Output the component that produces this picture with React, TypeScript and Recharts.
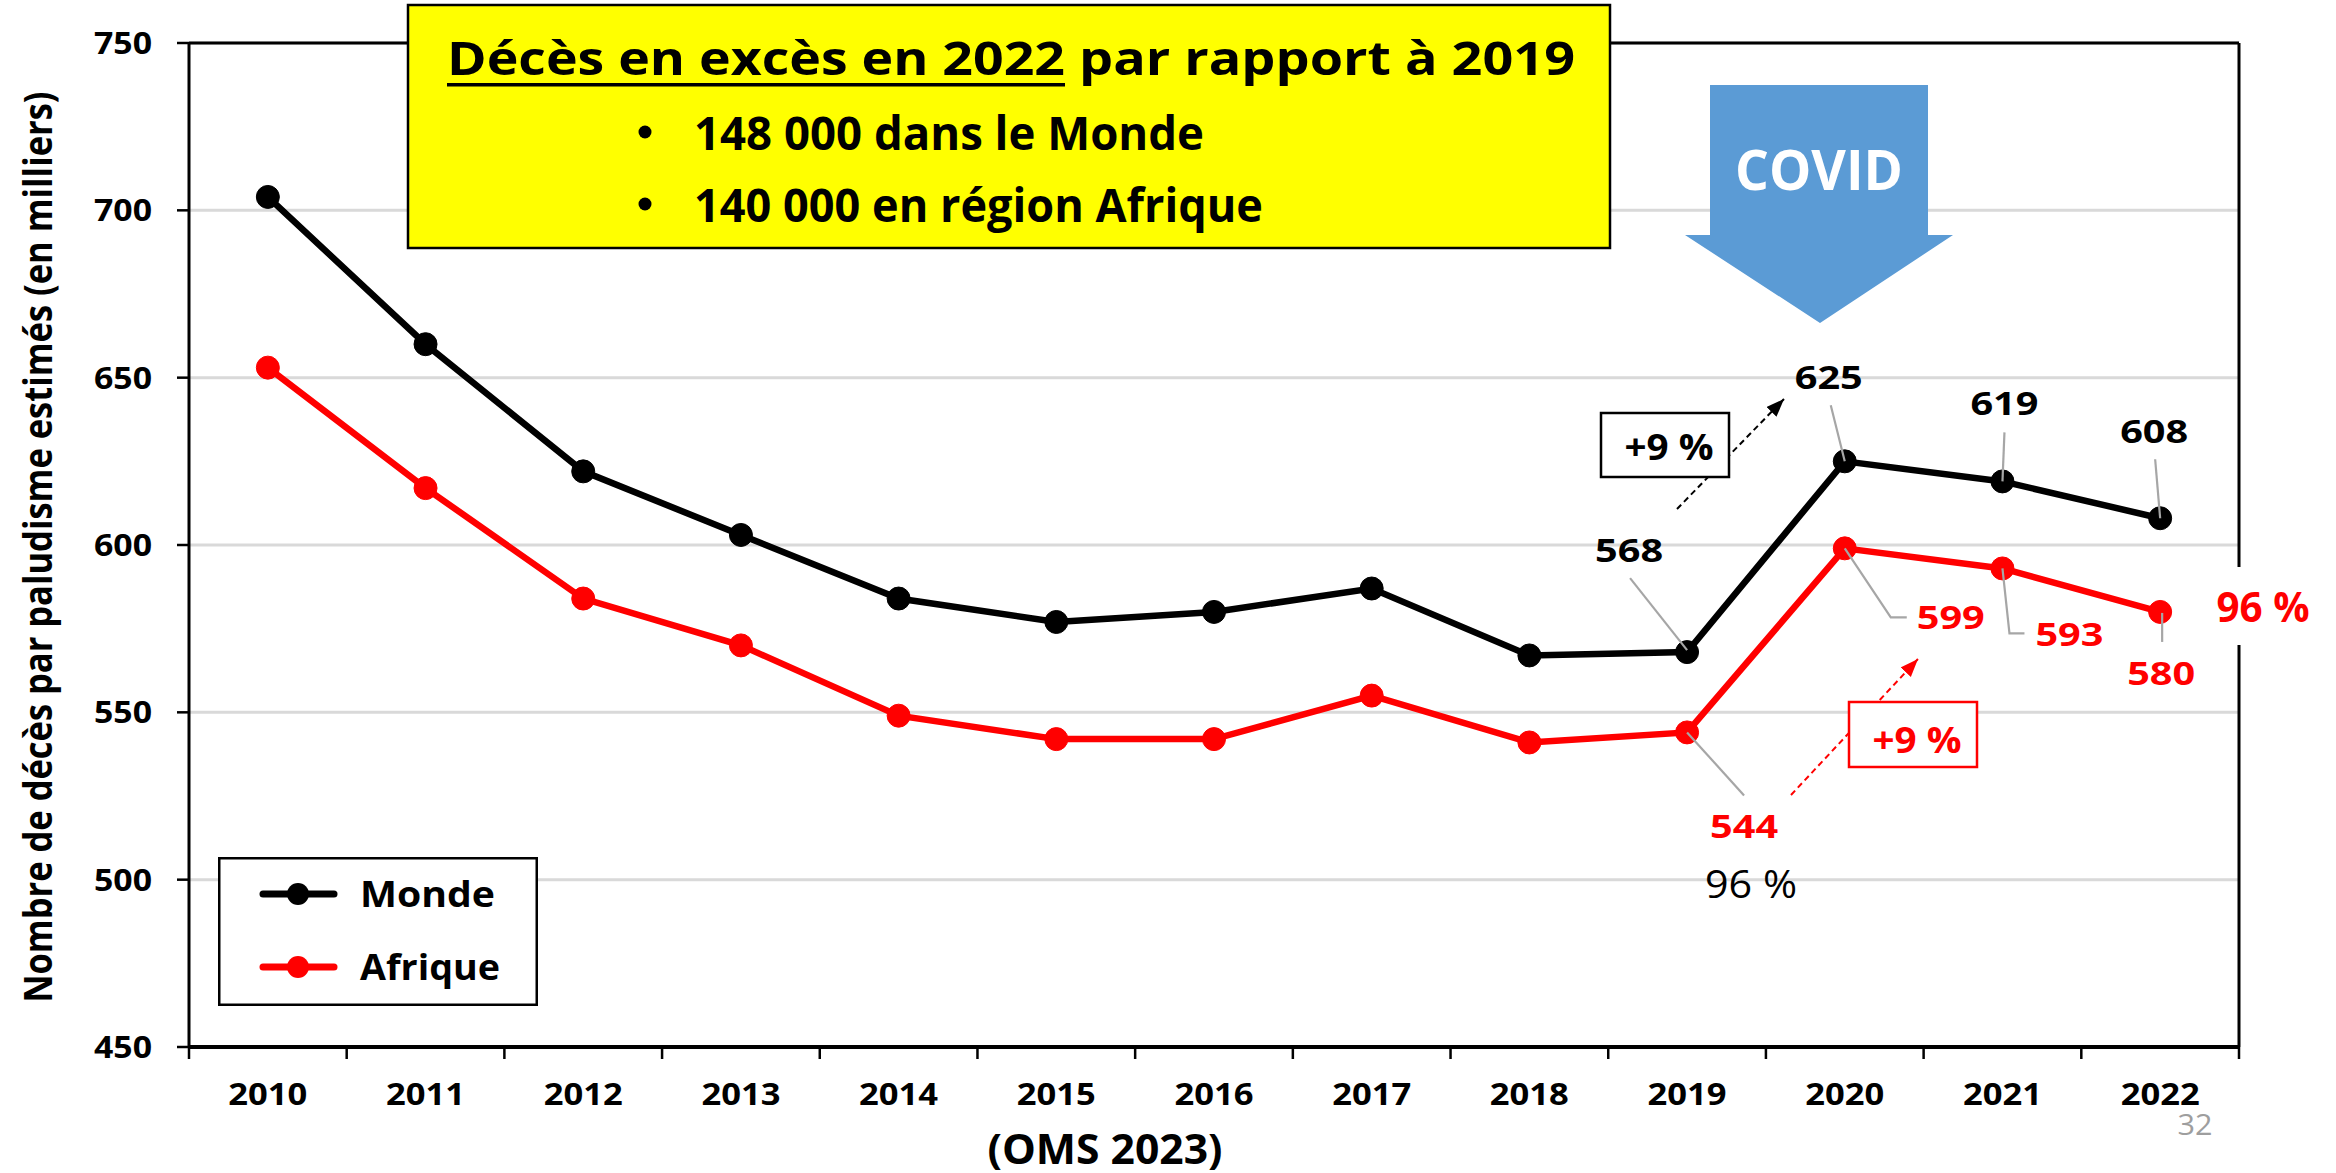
import React from 'react';
import { LineChart, Line, XAxis, YAxis, CartesianGrid, LabelList, Legend, ReferenceLine } from 'recharts';

// ---------- data ----------
const years = ['2010', '2011', '2012', '2013', '2014', '2015', '2016', '2017', '2018', '2019', '2020', '2021', '2022'];
const monde = [704, 660, 622, 603, 584, 577, 580, 587, 567, 568, 625, 619, 608];
const afrique = [653, 617, 584, 570, 549, 542, 542, 555, 541, 544, 599, 593, 580];
const yTicks = [450, 500, 550, 600, 650, 700, 750];
const seriesNames = ['Monde', 'Afrique'];
const titleMain = 'Décès en excès en 2022';
const titleRest = 'par rapport à 2019';
const bullets = ['148 000 dans le Monde', '140 000 en région Afrique'];
const changeText = '+9 %';
const shareText = '96 %';
const yTitle = 'Nombre de décès par paludisme estimés (en milliers)';
const xTitle = '(OMS 2023)';
const pageNo = '32';

const data = years.map((y, i) => ({ year: y, monde: monde[i], afrique: afrique[i] }));

// ---------- layout / style ----------
const W = 2336;
const H = 1173;
const MARGIN = { top: 43, right: 96, bottom: 66, left: 109 };
const Y_AXIS_W = 80;
const PLOT_W = W - MARGIN.left - Y_AXIS_W - MARGIN.right - 1;
const BAND = PLOT_W / years.length;
const FONT = "'Open Sans', 'DejaVu Sans', sans-serif";
const RED = '#FF0000';
const GRID = '#D9D9D9';
const LEADER = '#A6A6A6';

type LabelStyle = { dx: number; dy: number; leader: [number, number][] };
// offsets (text center dx, text baseline dy, leader polyline) relative to the point
const mondeLabelStyle: Record<number, LabelStyle> = {
  9: { dx: -58, dy: -90, leader: [[-57, -74], [0, -2]] },
  10: { dx: -16, dy: -72, leader: [[-14, -56], [0, 0]] },
  11: { dx: 2, dy: -66, leader: [[2, -49], [0, 0]] },
  12: { dx: -6, dy: -75, leader: [[-5, -59], [0, 0]] },
};
const afriqueLabelStyle: Record<number, LabelStyle> = {
  9: { dx: 57, dy: 106, leader: [[0, 0], [57, 63]] },
  10: { dx: 106, dy: 81, leader: [[0, 0], [46, 69], [62, 69]] },
  11: { dx: 67, dy: 78, leader: [[0, 0], [7, 65], [22, 65]] },
  12: { dx: 1, dy: 73, leader: [[2, 1], [2, 30]] },
};

const makeLabel = (styles: Record<number, LabelStyle>, color: string) => (props: any) => {
  const { index, value } = props;
  const st = styles[index];
  if (!st) return null;
  const vb = props.viewBox || {};
  const px = props.x ?? vb.x;
  const py = props.y ?? vb.y;
  if (px == null || py == null) return null;
  const pts = st.leader.map(([a, b]) => `${px + a},${py + b}`).join(' ');
  return (
    <g>
      <polyline points={pts} fill="none" stroke={LEADER} strokeWidth={2.2} />
      <text
        x={px + st.dx}
        y={py + st.dy}
        textAnchor="middle"
        fontFamily={FONT}
        fontWeight={700}
        fontSize={32}
        fill={color}
        textLength={68}
        lengthAdjust="spacingAndGlyphs"
      >
        {value}
      </text>
    </g>
  );
};

const XTick = (props: any) => {
  const { x, y, payload, index } = props;
  const axisY = y - 32;
  return (
    <g>
      <line x1={x - BAND / 2} x2={x - BAND / 2} y1={axisY} y2={axisY + 12} stroke="#000" strokeWidth={2.5} />
      {index === years.length - 1 && (
        <line x1={x + BAND / 2} x2={x + BAND / 2} y1={axisY} y2={axisY + 12} stroke="#000" strokeWidth={2.5} />
      )}
      <text
        x={x}
        y={y + 26}
        textAnchor="middle"
        fontFamily={FONT}
        fontWeight={700}
        fontSize={31}
        fill="#000"
        textLength={79}
        lengthAdjust="spacingAndGlyphs"
      >
        {payload.value}
      </text>
    </g>
  );
};

const YTick = (props: any) => {
  const { x, y, payload } = props;
  return (
    <text
      x={x}
      y={y + 11}
      textAnchor="end"
      fontFamily={FONT}
      fontWeight={700}
      fontSize={31}
      fill="#000"
      textLength={58}
      lengthAdjust="spacingAndGlyphs"
    >
      {payload.value}
    </text>
  );
};

const legendWidths = [135, 140];
const renderLegend = (props: any) => {
  const payload = (props && props.payload) || [];
  const items = seriesNames.map((n, i) => {
    const p = payload.find((e: any) => e.value === n);
    return { name: n, color: p ? p.color : i === 0 ? '#000' : RED };
  });
  return (
    <svg width={320} height={149} style={{ display: 'block' }}>
      <rect x={1.25} y={1.25} width={317.5} height={146.5} fill="#fff" stroke="#000" strokeWidth={2.5} />
      {items.map((it, i) => {
        const cy = 37 + i * 73;
        return (
          <g key={it.name}>
            <line x1={45} x2={116} y1={cy} y2={cy} stroke={it.color} strokeWidth={7} strokeLinecap="round" />
            <circle cx={80} cy={cy} r={11} fill={it.color} />
            <text
              x={142}
              y={cy + 12.5}
              fontFamily={FONT}
              fontWeight={700}
              fontSize={35}
              fill="#000"
              textLength={legendWidths[i]}
              lengthAdjust="spacingAndGlyphs"
            >
              {it.name}
            </text>
          </g>
        );
      })}
    </svg>
  );
};

const Overlay = () => (
  <svg width={W} height={H} style={{ position: 'absolute', left: 0, top: 0, pointerEvents: 'none' }}>
    <defs>
      <marker id="arrBlack" markerUnits="userSpaceOnUse" markerWidth={20} markerHeight={16} refX={18} refY={7} orient="auto">
        <path d="M0,0 L18,7 L0,14 z" fill="#000" />
      </marker>
      <marker id="arrRed" markerUnits="userSpaceOnUse" markerWidth={20} markerHeight={16} refX={18} refY={7} orient="auto">
        <path d="M0,0 L18,7 L0,14 z" fill={RED} />
      </marker>
    </defs>

    {/* yellow title box */}
    <rect x={408} y={5} width={1202} height={243} fill="#FFFF00" stroke="#000" strokeWidth={2.5} />
    <text x={447} y={75} fontFamily={FONT} fontWeight={700} fontSize={46} fill="#000" textLength={618} lengthAdjust="spacingAndGlyphs">
      {titleMain}
    </text>
    <rect x={447} y={83} width={618} height={3.5} fill="#000" />
    <text x={1079} y={75} fontFamily={FONT} fontWeight={700} fontSize={46} fill="#000" textLength={496} lengthAdjust="spacingAndGlyphs">
      {titleRest}
    </text>
    <circle cx={645} cy={132} r={6.5} fill="#000" />
    <text x={694} y={150} fontFamily={FONT} fontWeight={700} fontSize={46} fill="#000" textLength={510} lengthAdjust="spacingAndGlyphs">
      {bullets[0]}
    </text>
    <circle cx={645} cy={204} r={6.5} fill="#000" />
    <text x={694} y={222} fontFamily={FONT} fontWeight={700} fontSize={46} fill="#000" textLength={569} lengthAdjust="spacingAndGlyphs">
      {bullets[1]}
    </text>

    {/* COVID arrow */}
    <polygon points="1710,85 1928,85 1928,235 1953,235 1820,323 1685,235 1710,235" fill="#5B9BD5" />
    <text x={1819} y={190} textAnchor="middle" fontFamily={FONT} fontWeight={700} fontSize={56} fill="#fff" textLength={168} lengthAdjust="spacingAndGlyphs">
      COVID
    </text>

    {/* black +9% */}
    <line x1={1677} y1={509} x2={1784} y2={399} stroke="#000" strokeWidth={2} strokeDasharray="6 4" markerEnd="url(#arrBlack)" />
    <rect x={1601} y={413} width={128} height={64} fill="#fff" stroke="#000" strokeWidth={2.5} />
    <text x={1669} y={460} textAnchor="middle" fontFamily={FONT} fontWeight={700} fontSize={35} fill="#000" textLength={89} lengthAdjust="spacingAndGlyphs">
      {changeText}
    </text>

    {/* red +9% */}
    <line x1={1791} y1={795} x2={1918} y2={659} stroke={RED} strokeWidth={2} strokeDasharray="6 4" markerEnd="url(#arrRed)" />
    <rect x={1849} y={702} width={128} height={65} fill="#fff" stroke={RED} strokeWidth={2.5} />
    <text x={1917} y={753} textAnchor="middle" fontFamily={FONT} fontWeight={700} fontSize={35} fill={RED} textLength={89} lengthAdjust="spacingAndGlyphs">
      {changeText}
    </text>

    {/* 96 % */}
    <text x={1751} y={898} textAnchor="middle" fontFamily={FONT} fontWeight={400} fontSize={38} fill="#000" textLength={92} lengthAdjust="spacingAndGlyphs">
      {shareText}
    </text>
    <rect x={2205} y={567} width={112} height={78} fill="#fff" />
    <text x={2263} y={622} textAnchor="middle" fontFamily={FONT} fontWeight={700} fontSize={42} fill={RED} textLength={93} lengthAdjust="spacingAndGlyphs">
      {shareText}
    </text>

    {/* axis titles */}
    <text
      x={52}
      y={547}
      transform="rotate(-90, 52, 547)"
      textAnchor="middle"
      fontFamily={FONT}
      fontWeight={700}
      fontSize={39}
      fill="#000"
      textLength={911}
      lengthAdjust="spacingAndGlyphs"
    >
      {yTitle}
    </text>
    <text x={1105} y={1164} textAnchor="middle" fontFamily={FONT} fontWeight={700} fontSize={42} fill="#000" textLength={235} lengthAdjust="spacingAndGlyphs">
      {xTitle}
    </text>
    <text x={2195} y={1135} textAnchor="middle" fontFamily={FONT} fontWeight={400} fontSize={30} fill="#9E9E9E" textLength={35} lengthAdjust="spacingAndGlyphs">
      {pageNo}
    </text>
  </svg>
);

export default function App() {
  return (
    <div style={{ position: 'absolute', left: 0, top: 0, width: W, height: H, background: '#fff' }}>
      <LineChart width={W} height={H} data={data} margin={MARGIN}>
        <CartesianGrid horizontal vertical={false} stroke={GRID} strokeWidth={3} />
        <XAxis
          dataKey="year"
          height={60}
          interval={0}
          padding={{ left: BAND / 2, right: BAND / 2 }}
          axisLine={{ stroke: '#000', strokeWidth: 4 }}
          tickLine={false}
          tickSize={12}
          tickMargin={20}
          tick={<XTick />}
        />
        <YAxis
          domain={[450, 750]}
          ticks={yTicks}
          width={Y_AXIS_W}
          interval={0}
          axisLine={{ stroke: '#000', strokeWidth: 3 }}
          tickLine={{ stroke: '#000', strokeWidth: 2.5 }}
          tickSize={12}
          tickMargin={25}
          tick={<YTick />}
        />
        <YAxis
          yAxisId="r"
          orientation="right"
          domain={[450, 750]}
          width={1}
          tick={false}
          tickLine={false}
          axisLine={{ stroke: '#000', strokeWidth: 3 }}
        />
        <ReferenceLine y={750} stroke="#000" strokeWidth={3} />
        <Legend
          layout="horizontal"
          verticalAlign="middle"
          align="center"
          wrapperStyle={{ left: 218, top: 857, width: 320, height: 149 }}
          content={renderLegend}
        />
        <Line
          name={seriesNames[0]}
          dataKey="monde"
          stroke="#000"
          strokeWidth={6.5}
          dot={{ r: 11.5, fill: '#000', stroke: '#000', strokeWidth: 1 }}
          activeDot={false}
          isAnimationActive={false}
        >
          <LabelList dataKey="monde" content={makeLabel(mondeLabelStyle, '#000')} />
        </Line>
        <Line
          name={seriesNames[1]}
          dataKey="afrique"
          stroke={RED}
          strokeWidth={6.5}
          dot={{ r: 11.5, fill: RED, stroke: RED, strokeWidth: 1 }}
          activeDot={false}
          isAnimationActive={false}
        >
          <LabelList dataKey="afrique" content={makeLabel(afriqueLabelStyle, RED)} />
        </Line>
      </LineChart>
      <Overlay />
    </div>
  );
}
